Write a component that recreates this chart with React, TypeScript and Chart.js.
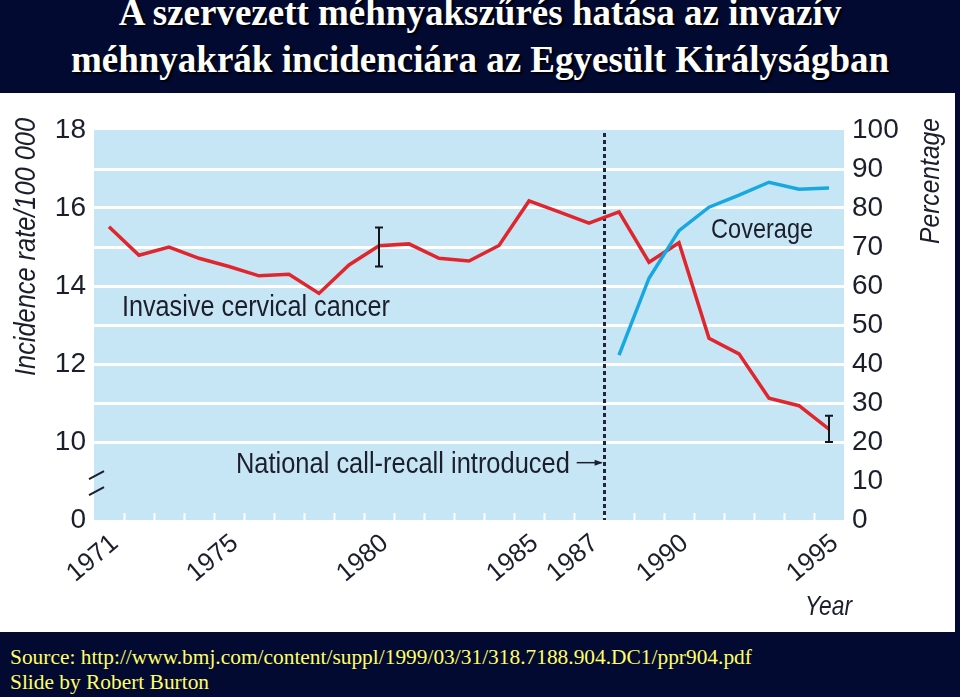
import React, { useEffect, useRef } from "react";
import { Chart, registerables } from "chart.js";

Chart.register(...registerables);

// ---------- data ----------
const incidenceYears = [1971, 1972, 1973, 1974, 1975, 1976, 1977, 1978, 1979, 1980, 1981, 1982, 1983, 1984, 1985, 1986, 1987, 1988, 1989, 1990, 1991, 1992, 1993, 1994, 1995];
const incidenceRate = [15.52, 14.79, 15.0, 14.71, 14.5, 14.26, 14.3, 13.81, 14.54, 15.03, 15.08, 14.71, 14.64, 15.04, 16.18, 15.9, 15.61, 15.9, 14.61, 15.11, 12.66, 12.26, 11.12, 10.93, 10.33];
const coverageYears = [1988, 1989, 1990, 1991, 1992, 1993, 1994, 1995];
const coveragePct = [42.3, 62.0, 74.2, 80.2, 83.3, 86.6, 84.8, 85.1];
const yearTickLabels = [1971, 1975, 1980, 1985, 1987, 1990, 1995];
const leftGridValues = [8, 9, 10, 11, 12, 13, 14, 15, 16, 17, 18];
const leftTickValues = [8, 10, 12, 14, 16, 18]; // 8 is the broken-axis "0"
const leftTickLabels = ["0", "10", "12", "14", "16", "18"];
const rightTickValues = [0, 10, 20, 30, 40, 50, 60, 70, 80, 90, 100];
const errorBarYears = [1980, 1995];
const errorBarLow = [14.5, 10.0];
const errorBarHigh = [15.5, 10.67];
const callRecallYear = 1987.5;

// ---------- style ----------
const NAVY = "#030a32";
const PLOT_BG = "#c6e6f6";
const RED = "#e0262c";
const BLUE = "#18a8e0";
const INK = "#1c1f2b";
const FONT = '"Liberation Sans Narrow", "Liberation Sans", Arial, sans-serif';

function fitText(ctx: CanvasRenderingContext2D, text: string, x: number, y: number, width: number, size: number, italic: boolean, rot = 0) {
  ctx.save();
  ctx.font = `${italic ? "italic " : ""}${size}px ${FONT}`;
  ctx.textAlign = "left";
  ctx.textBaseline = "alphabetic";
  ctx.fillStyle = INK;
  const w0 = ctx.measureText(text).width;
  ctx.translate(x, y);
  if (rot) ctx.rotate(rot);
  ctx.scale(width / w0, 1);
  ctx.fillText(text, 0, 0);
  ctx.restore();
}

const bgPlugin = {
  id: "plotBg",
  beforeDraw(chart: any) {
    const { ctx, chartArea: a } = chart;
    ctx.save();
    ctx.fillStyle = PLOT_BG;
    ctx.fillRect(a.left, a.top, a.right - a.left, a.bottom - a.top);
    ctx.restore();
  },
  beforeDatasetsDraw(chart: any) {
    const { ctx, chartArea: a } = chart;
    const xs = chart.scales.x;
    ctx.save();
    ctx.strokeStyle = "#ffffff";
    ctx.lineWidth = 2;
    for (let v = xs.min + 1; v < xs.max; v += 1) {
      const px = Math.round(xs.getPixelForValue(v)) + 0.5;
      ctx.beginPath();
      ctx.moveTo(px, a.bottom);
      ctx.lineTo(px, a.bottom - 7);
      ctx.stroke();
    }
    // dotted call-recall line
    const dx = Math.round(xs.getPixelForValue(callRecallYear)) + 0.5;
    ctx.strokeStyle = "#23263a";
    ctx.lineWidth = 3;
    ctx.setLineDash([4, 3]);
    ctx.beginPath();
    ctx.moveTo(dx, a.top + 3);
    ctx.lineTo(dx, a.bottom);
    ctx.stroke();
    ctx.restore();
  },
};

const decorPlugin = {
  id: "decor",
  afterDraw(chart: any) {
    const { ctx, chartArea: a } = chart;
    const xs = chart.scales.x;
    const yl = chart.scales.y;
    const yr = chart.scales.y1;
    ctx.save();
    // error bars
    ctx.strokeStyle = "#15161c";
    ctx.lineWidth = 2;
    errorBarYears.forEach((yr0, i) => {
      const px = xs.getPixelForValue(yr0);
      const t = yl.getPixelForValue(errorBarHigh[i]);
      const b = yl.getPixelForValue(errorBarLow[i]);
      ctx.beginPath();
      ctx.moveTo(px, t);
      ctx.lineTo(px, b);
      ctx.moveTo(px - 4, t);
      ctx.lineTo(px + 4, t);
      ctx.moveTo(px - 4, b);
      ctx.lineTo(px + 4, b);
      ctx.stroke();
    });
    // broken-axis marks
    ctx.strokeStyle = "#1c1f2b";
    ctx.lineWidth = 2;
    const b1 = yl.getPixelForValue(9.15);
    const b2 = yl.getPixelForValue(8.74);
    [b1, b2].forEach((yy) => {
      ctx.beginPath();
      ctx.moveTo(a.left - 5, yy + 4);
      ctx.lineTo(a.left + 10, yy - 4);
      ctx.stroke();
    });
    // arrow
    const ay = yl.getPixelForValue(9.47);
    const ax1 = xs.getPixelForValue(1986.59);
    const ax2 = xs.getPixelForValue(1987.42);
    ctx.lineWidth = 1.5;
    ctx.beginPath();
    ctx.moveTo(ax1, ay);
    ctx.lineTo(ax2, ay);
    ctx.stroke();
    ctx.fillStyle = "#1c1f2b";
    ctx.beginPath();
    ctx.moveTo(ax2 + 1, ay);
    ctx.lineTo(ax2 - 7, ay - 3);
    ctx.lineTo(ax2 - 7, ay + 3);
    ctx.closePath();
    ctx.fill();
    ctx.restore();

    // annotations
    fitText(ctx, "Invasive cervical cancer", xs.getPixelForValue(1971.43), yl.getPixelForValue(13.23), 268, 30, false);
    fitText(ctx, "Coverage", xs.getPixelForValue(1991.07), yr.getPixelForValue(72.2), 102, 28, false);
    fitText(ctx, "National call-recall introduced", xs.getPixelForValue(1975.23), yl.getPixelForValue(9.2), 334, 29, false);
    // axis titles
    fitText(ctx, "Incidence rate/100 000", 35, 283, 258, 30, true, -Math.PI / 2);
    fitText(ctx, "Percentage", 939, 151, 126, 27, true, -Math.PI / 2);
    fitText(ctx, "Year", 805, 522, 47, 28, true);
  },
};

function ChartCanvas() {
  const ref = useRef<HTMLCanvasElement | null>(null);
  useEffect(() => {
    if (!ref.current) return;
    const tickFont = { family: FONT, size: 28 };
    const chart = new Chart(ref.current, {
      type: "line",
      data: {
        datasets: [
          {
            label: "Coverage",
            data: coverageYears.map((x, i) => ({ x, y: coveragePct[i] })),
            yAxisID: "y1",
            borderColor: BLUE,
            borderWidth: 3.5,
            pointRadius: 0,
            tension: 0,
            borderJoinStyle: "miter",
            fill: false,
          },
          {
            label: "Invasive cervical cancer",
            data: incidenceYears.map((x, i) => ({ x, y: incidenceRate[i] })),
            yAxisID: "y",
            borderColor: RED,
            borderWidth: 3.5,
            pointRadius: 0,
            tension: 0,
            borderJoinStyle: "miter",
            fill: false,
          },
        ],
      },
      options: {
        animation: false,
        responsive: false,
        maintainAspectRatio: false,
        layout: { padding: { top: 37, left: 0, right: 0, bottom: 0 } },
        plugins: { legend: { display: false }, tooltip: { enabled: false } },
        scales: {
          x: {
            type: "linear",
            min: 1970.5,
            max: 1995.5,
            afterBuildTicks: (s: any) => {
              s.ticks = yearTickLabels.map((v) => ({ value: v }));
            },
            afterFit: (s: any) => {
              s.height = 112;
            },
            grid: { display: false },
            border: { display: false },
            ticks: {
              autoSkip: false,
              minRotation: 40,
              maxRotation: 40,
              padding: 0,
              labelOffset: 6,
              color: INK,
              font: { family: FONT, size: 26 },
              callback: (v: any) => String(v),
            },
          },
          y: {
            position: "left",
            min: 8,
            max: 18,
            afterBuildTicks: (s: any) => {
              s.ticks = leftGridValues.map((v) => ({ value: v }));
            },
            afterFit: (s: any) => {
              s.width = 94;
            },
            grid: {
              color: (c: any) => (c.tick && c.tick.value >= 10 && c.tick.value < 18 ? "#ffffff" : "rgba(0,0,0,0)"),
              lineWidth: 3,
              drawTicks: false,
            },
            border: { display: false },
            ticks: {
              padding: 8,
              color: INK,
              font: tickFont,
              callback: (v: any) => {
                const i = leftTickValues.indexOf(v);
                return i >= 0 ? leftTickLabels[i] : "";
              },
            },
          },
          y1: {
            position: "right",
            min: 0,
            max: 100,
            afterBuildTicks: (s: any) => {
              s.ticks = rightTickValues.map((v) => ({ value: v }));
            },
            afterFit: (s: any) => {
              s.width = 111;
            },
            grid: { display: false, drawTicks: false },
            border: { display: false },
            ticks: {
              padding: 8,
              color: INK,
              font: tickFont,
              callback: (v: any) => String(v),
            },
          },
        },
      },
      plugins: [bgPlugin, decorPlugin],
    } as any);
    return () => chart.destroy();
  }, []);
  return <canvas ref={ref} width={955} height={539} style={{ width: 955, height: 539, display: "block" }} />;
}

export default function App() {
  const titleStyle: React.CSSProperties = {
    position: "absolute",
    left: 0,
    width: 960,
    textAlign: "center",
    color: "#ffffff",
    fontFamily: '"Liberation Serif", "Times New Roman", serif',
    fontWeight: "bold",
    fontSize: 37,
    lineHeight: "37px",
    whiteSpace: "nowrap",
    textShadow: "2px 2px 2px #000000",
  };
  const srcStyle: React.CSSProperties = {
    position: "absolute",
    left: 10,
    color: "#ffff66",
    fontFamily: '"Liberation Serif", "Times New Roman", serif',
    fontSize: 21.4,
    lineHeight: "21.4px",
    whiteSpace: "nowrap",
  };
  return (
    <div style={{ position: "absolute", left: 0, top: 0, width: 960, height: 697, background: NAVY, overflow: "hidden" }}>
      <div style={{ ...titleStyle, top: -6 }}>A szervezett méhnyakszűrés hatása az invazív</div>
      <div style={{ ...titleStyle, top: 41 }}>méhnyakrák incidenciára az Egyesült Királyságban</div>
      <div style={{ position: "absolute", left: 0, top: 93, width: 955, height: 539, background: "#ffffff" }}>
        <ChartCanvas />
      </div>
      <div style={{ ...srcStyle, top: 647 }}>Source: http://www.bmj.com/content/suppl/1999/03/31/318.7188.904.DC1/ppr904.pdf</div>
      <div style={{ ...srcStyle, top: 672 }}>Slide by Robert Burton</div>
    </div>
  );
}
